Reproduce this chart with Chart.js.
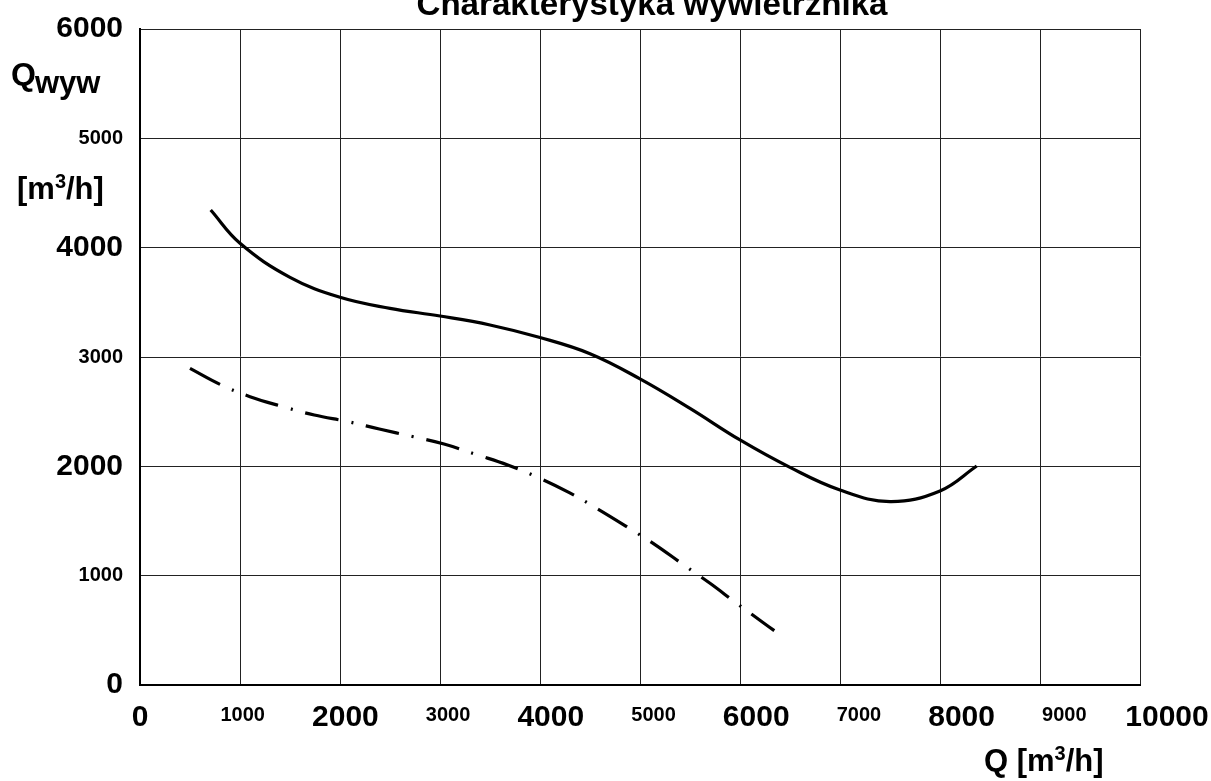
<!DOCTYPE html>
<html>
<head>
<meta charset="utf-8">
<script src="https://cdn.jsdelivr.net/npm/chart.js@4.4.1/dist/chart.umd.min.js"></script>
<style>
html,body{margin:0;padding:0;background:#fff;}
#wrap{width:1211px;height:781px;position:relative;}
</style>
</head>
<body>
<div id="wrap"><canvas id="c" width="1211" height="781"></canvas></div>
<script>
// ---- data ----
const titleText = 'Charakterystyka wywietrznika';
const xTickValues = [0,1000,2000,3000,4000,5000,6000,7000,8000,9000,10000];
const yTickValues = [0,1000,2000,3000,4000,5000,6000];

// solid curve
const solidQ    = [707, 1000, 1500, 2000, 2500, 3000, 3500, 4000, 4500, 5000, 5500, 6000, 6500, 7000, 7500, 8000, 8367];
const solidQwyw = [4344, 4040, 3729, 3546, 3445, 3375, 3293, 3178, 3030, 2800, 2530, 2241, 1990, 1783, 1678, 1775, 2003];

// dash-dot curve
const dashQ    = [500, 800, 1100, 1433, 1743, 2083, 2393, 2733, 3040, 3377, 3677, 4000, 4293, 4583, 4867, 5157, 5423, 5700, 5967, 6233, 6343];
const dashQwyw = [2896, 2750, 2637, 2545, 2469, 2408, 2341, 2271, 2204, 2104, 2012, 1890, 1759, 1607, 1448, 1280, 1107, 930, 747, 570, 497];

const SANS = '"Liberation Sans", Arial, sans-serif';

const toPts = (xs, ys) => xs.map((x, i) => ({x: x, y: ys[i]}));

const textPlugin = {
  id: 'texts',
  afterDraw(chart) {
    const ctx = chart.ctx;
    ctx.save();
    ctx.fillStyle = '#000';
    ctx.textBaseline = 'alphabetic';
    // title (clipped at top in reference)
    ctx.font = 'bold 34px ' + SANS;
    let w = ctx.measureText(titleText).width;
    ctx.save();
    ctx.translate(652, 15);
    ctx.scale(471 / w, 1);
    ctx.textAlign = 'center';
    ctx.fillText(titleText, 0, 0);
    ctx.restore();

    ctx.textAlign = 'left';
    // Y axis title: Q with subscript wyw
    ctx.font = 'bold 32px ' + SANS;
    ctx.fillText('Q', 11, 85);
    const qw = ctx.measureText('Q').width;
    ctx.font = 'bold 31px ' + SANS;
    ctx.fillText('wyw', 11 + qw - 1, 93);

    // unit with superscript
    function unit(x, y, size, prefix) {
      ctx.font = 'bold ' + size + 'px ' + SANS;
      let cx = x;
      ctx.fillText(prefix + '[m', cx, y);
      cx += ctx.measureText(prefix + '[m').width;
      ctx.font = 'bold ' + Math.round(size * 0.65) + 'px ' + SANS;
      ctx.fillText('3', cx, y - size * 0.36);
      cx += ctx.measureText('3').width;
      ctx.font = 'bold ' + size + 'px ' + SANS;
      ctx.fillText('/h]', cx, y);
    }
    unit(17, 199, 31, '');
    unit(984, 771, 31, 'Q ');
    ctx.restore();
  }
};

const bigX = {family: SANS, size: 30, weight: 'bold', lineHeight: 1.2};
const smallX = {family: SANS, size: 20, weight: 'bold', lineHeight: 1.55};
const bigY = {family: SANS, size: 30, weight: 'bold'};
const smallY = {family: SANS, size: 20, weight: 'bold'};
const plain = v => String(v);

new Chart(document.getElementById('c'), {
  type: 'line',
  data: {
    datasets: [
      {
        label: 'Qwyw',
        data: toPts(solidQ, solidQwyw),
        borderColor: '#000',
        borderWidth: 3.2,
        pointRadius: 0,
        tension: 0.4,
        fill: false
      },
      {
        label: 'Qwyw2',
        data: toPts(dashQ, dashQwyw),
        borderColor: '#000',
        borderWidth: 3.2,
        borderDash: [34, 13, 2, 13],
        pointRadius: 0,
        tension: 0.4,
        fill: false
      }
    ]
  },
  options: {
    responsive: false,
    animation: false,
    devicePixelRatio: 1,
    layout: {padding: {top: 29, right: 71, left: 0, bottom: 0}},
    plugins: {legend: {display: false}, title: {display: false}, tooltip: {enabled: false}},
    scales: {
      x: {
        type: 'linear', position: 'bottom', min: 0, max: 10000, weight: 0,
        afterFit: s => { s.height = 0; s.paddingLeft = 0; s.paddingRight = 0; },
        ticks: {display: false, stepSize: 1000},
        grid: {color: '#222', lineWidth: 1, drawTicks: false},
        border: {display: true, color: '#000', width: 2}
      },
      xLabels: {
        type: 'linear', axis: 'x', position: 'bottom', min: 0, max: 9737, weight: 1,
        afterBuildTicks: s => { s.ticks = xTickValues.map(v => ({value: v})); },
        afterFit: s => { s.height = 96; s.paddingLeft = 0; s.paddingRight = 0; },
        grid: {display: false, drawTicks: false},
        border: {display: false},
        ticks: {
          autoSkip: false, maxRotation: 0, minRotation: 0, padding: 15, color: '#000',
          callback: plain,
          font: c => (c.tick && c.tick.value % 2000 === 0) ? bigX : smallX
        }
      },
      y: {
        type: 'linear', min: 0, max: 6000,
        afterBuildTicks: s => { s.ticks = yTickValues.map(v => ({value: v})); },
        afterFit: s => { s.width = 140; s.paddingTop = 0; s.paddingBottom = 0; },
        ticks: {
          padding: 17, color: '#000',
          callback: plain,
          font: c => (c.tick && c.tick.value % 2000 === 0) ? bigY : smallY
        },
        grid: {color: '#222', lineWidth: 1, drawTicks: false},
        border: {display: true, color: '#000', width: 2}
      }
    }
  },
  plugins: [textPlugin]
});
</script>
</body>
</html>
